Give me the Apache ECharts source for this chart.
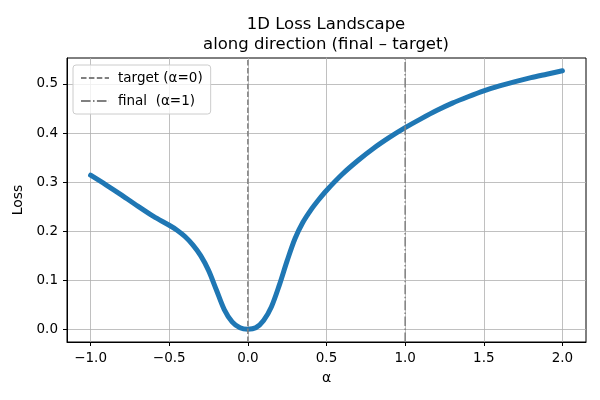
<!DOCTYPE html>
<html>
<head>
<meta charset="utf-8">
<style>
  html, body { margin: 0; padding: 0; background: #fff; }
  #chart { width: 600px; height: 400px; }
</style>
<script src="https://cdn.jsdelivr.net/npm/echarts@6/dist/echarts.min.js"></script>
</head>
<body>
<div id="chart"></div>
<script>
// values
const alphas = [-1, -0.9, -0.8, -0.7, -0.6, -0.5, -0.45, -0.4, -0.35, -0.3, -0.25, -0.2, -0.15, -0.1, -0.05,
  0, 0.05, 0.1, 0.15, 0.2, 0.25, 0.3, 0.35, 0.4, 0.45, 0.5, 0.6, 0.7, 0.8, 0.9,
  1.0, 1.1, 1.2, 1.3, 1.4, 1.5, 1.6, 1.7, 1.8, 1.9, 2.0];
const losses = [0.314, 0.294, 0.273, 0.251, 0.230, 0.212, 0.202, 0.189, 0.172, 0.150, 0.120, 0.080, 0.040, 0.015, 0.003,
  0.000, 0.003, 0.018, 0.046, 0.090, 0.140, 0.185, 0.218, 0.243, 0.264, 0.283, 0.316, 0.344, 0.369, 0.391,
  0.411, 0.429, 0.446, 0.461, 0.474, 0.486, 0.496, 0.505, 0.513, 0.520, 0.527];
const xTicks = [-1, -0.5, 0, 0.5, 1, 1.5, 2];
const yTicks = [0, 0.1, 0.2, 0.3, 0.4, 0.5];
const xRange = [-1.15, 2.15];
const yRange = [-0.026, 0.553];
const targetAlpha = 0;
const finalAlpha = 1;

const chart = echarts.init(document.getElementById('chart'), null, { renderer: 'canvas' });
const font = 'DejaVu Sans';
const fmt = (v) => Number(v).toFixed(1).replace('-', '\u2212');

chart.setOption({
  animation: false,
  textStyle: { fontFamily: font, color: '#000' },
  title: {
    text: '1D Loss Landscape\nalong direction (final \u2013 target)',
    left: 321,
    top: 10,
    textAlign: 'center',
    textStyle: { fontFamily: font, fontSize: 16.5, fontWeight: 'normal', color: '#000', lineHeight: 20 },
  },
  legend: {
    orient: 'vertical',
    left: 73,
    top: 65,
    padding: [6, 8, 6, 7],
    itemWidth: 28,
    itemHeight: 12,
    itemGap: 9,
    backgroundColor: 'rgba(255,255,255,0.8)',
    borderColor: '#cccccc',
    borderWidth: 1,
    borderRadius: 3,
    itemStyle: { opacity: 0 },
    textStyle: { fontFamily: font, fontSize: 13.5, color: '#000', padding: [0, 0, 0, 4] },
    data: ['target (\u03b1=0)', 'final  (\u03b1=1)'],
  },
  grid: { left: 67, right: 14, top: 58, bottom: 58, show: true, borderColor: '#000', borderWidth: 1, backgroundColor: 'transparent' },
  xAxis: {
    type: 'value',
    min: xRange[0],
    max: xRange[1],
    name: '\u03b1',
    nameLocation: 'middle',
    nameGap: 29,
    nameTextStyle: { fontFamily: font, fontSize: 14, color: '#000' },
    axisLine: { onZero: false, lineStyle: { color: '#000', width: 1 } },
    axisTick: { show: true, length: 4, customValues: xTicks, lineStyle: { color: '#000' } },
    axisLabel: { customValues: xTicks, margin: 9, fontFamily: font, fontSize: 13.5, color: '#000', formatter: fmt },
    splitLine: { show: true, lineStyle: { color: '#b0b0b0', width: 0.8 } },
  },
  yAxis: {
    type: 'value',
    min: yRange[0],
    max: yRange[1],
    name: 'Loss',
    nameLocation: 'middle',
    nameGap: 37,
    nameTextStyle: { fontFamily: font, fontSize: 14, color: '#000' },
    axisLine: { show: true, onZero: false, lineStyle: { color: '#000', width: 1 } },
    axisTick: { show: true, length: 4, customValues: yTicks, lineStyle: { color: '#000' } },
    axisLabel: { customValues: yTicks, margin: 9, fontFamily: font, fontSize: 13.5, color: '#000', formatter: fmt },
    splitLine: { show: true, lineStyle: { color: '#b0b0b0', width: 0.8 } },
  },
  series: [
    {
      name: 'loss',
      type: 'line',
      data: alphas.map((a, i) => [a, losses[i]]),
      smooth: 0.3,
      showSymbol: false,
      symbol: 'none',
      lineStyle: { color: '#1f77b4', width: 5, cap: 'round', join: 'round' },
      z: 3,
    },
    {
      name: 'target (\u03b1=0)',
      type: 'line',
      data: [[targetAlpha, yRange[0]], [targetAlpha, yRange[1]]],
      symbol: 'none',
      itemStyle: { color: '#808080' },
      lineStyle: { color: '#808080', width: 1.5, type: [5.5, 2.4] },
      z: 4,
    },
    {
      name: 'final  (\u03b1=1)',
      type: 'line',
      data: [[finalAlpha, yRange[0]], [finalAlpha, yRange[1]]],
      symbol: 'none',
      itemStyle: { color: '#808080' },
      lineStyle: { color: '#808080', width: 1.5, type: [9.6, 2.4, 1.5, 2.4] },
      z: 4,
    },
  ],
});
</script>
</body>
</html>
